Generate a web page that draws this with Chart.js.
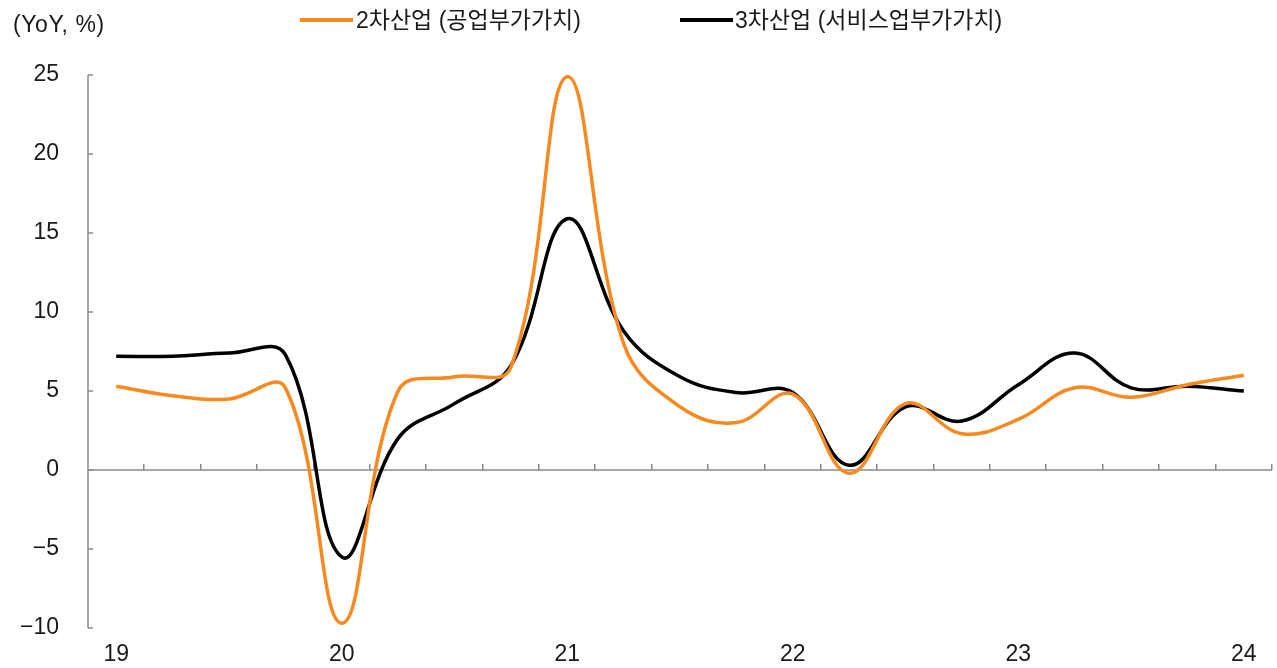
<!DOCTYPE html>
<html lang="ko">
<head>
<meta charset="utf-8">
<script src="https://cdn.jsdelivr.net/npm/chart.js@4.4.1/dist/chart.umd.min.js"></script>
<style>
  html, body { margin: 0; padding: 0; background: #fff; }
  #wrap { position: relative; width: 1277px; height: 668px; }
  canvas { position: absolute; left: 0; top: 0; }
  .txt { position: absolute; font-family: "Liberation Sans", "Noto Sans CJK KR", sans-serif; font-size: 23px; color: #1a1a1a; white-space: nowrap; line-height: 1; }
  .swatch { position: absolute; height: 4px; }
</style>
</head>
<body>
<div id="wrap">
  <canvas id="c" width="1277" height="668"></canvas>
  <div class="txt" style="left:13px; top:13px; letter-spacing:0.6px;">(YoY, %)</div>
  <div class="swatch" style="left:300px; top:18px; width:53px; background:#F7891F;"></div>
  <div class="txt" style="left:356px; top:9px;">2차산업 (공업부가가치)</div>
  <div class="swatch" style="left:680px; top:18px; width:53px; background:#000;"></div>
  <div class="txt" style="left:735px; top:9px;">3차산업 (서비스업부가가치)</div>
</div>
<script>
// Quarterly categories, 2019 Q1 through 2024 Q1
const quarters = [
  '19Q1','19Q2','19Q3','19Q4',
  '20Q1','20Q2','20Q3','20Q4',
  '21Q1','21Q2','21Q3','21Q4',
  '22Q1','22Q2','22Q3','22Q4',
  '23Q1','23Q2','23Q3','23Q4',
  '24Q1'
];
// Year label shown under each first quarter
const yearLabels = ['19','','','','20','','','','21','','','','22','','','','23','','','','24'];

// Secondary industry value added, YoY %
const secondary = [5.3, 4.7, 4.5, 5.2, -9.7, 5.0, 5.9, 6.5, 24.9, 8.0, 4.0, 3.0, 4.8, -0.2, 4.2, 2.3, 3.2, 5.2, 4.6, 5.4, 6.0];
// Tertiary industry value added, YoY %
const tertiary  = [7.2, 7.2, 7.4, 7.3, -5.5, 2.0, 4.2, 6.6, 15.9, 8.8, 5.9, 4.9, 4.9, 0.3, 4.0, 3.1, 5.4, 7.4, 5.2, 5.3, 5.0];

const yTicks = [25, 20, 15, 10, 5, 0, -5, -10];

const AXIS = '#8a8a8a';
const TEXT = '#1a1a1a';
const FONT = '"Liberation Sans", Arial, sans-serif';

// Axis lines and inward tick marks, drawn under the series
const axisPlugin = {
  id: 'axisPlugin',
  beforeDatasetsDraw(chart) {
    const { ctx, chartArea: a, scales: { x, y } } = chart;
    ctx.save();
    ctx.strokeStyle = AXIS;
    ctx.lineWidth = 1.5;
    // vertical axis
    ctx.beginPath();
    ctx.moveTo(a.left, y.getPixelForValue(25));
    ctx.lineTo(a.left, y.getPixelForValue(-10));
    ctx.stroke();
    // y tick marks
    yTicks.forEach(v => {
      const py = y.getPixelForValue(v);
      ctx.beginPath();
      ctx.moveTo(a.left, py);
      ctx.lineTo(a.left + 5, py);
      ctx.stroke();
    });
    // zero line
    const y0 = y.getPixelForValue(0);
    ctx.beginPath();
    ctx.moveTo(a.left, y0);
    ctx.lineTo(a.right, y0);
    ctx.stroke();
    // category boundary ticks
    const w = (a.right - a.left) / quarters.length;
    for (let k = 1; k <= quarters.length; k++) {
      const px = Math.round(a.left + k * w) - 0.25;
      ctx.beginPath();
      ctx.moveTo(px, y0);
      ctx.lineTo(px, y0 - 6);
      ctx.stroke();
    }
    ctx.restore();
  }
};

new Chart(document.getElementById('c'), {
  type: 'line',
  data: {
    labels: quarters,
    datasets: [
      { label: '2차산업 (공업부가가치)', data: secondary, borderColor: '#F7891F', backgroundColor: '#F7891F' },
      { label: '3차산업 (서비스업부가가치)', data: tertiary, borderColor: '#000000', backgroundColor: '#000000' }
    ]
  },
  options: {
    responsive: false,
    animation: false,
    devicePixelRatio: 1,
    layout: { padding: { top: 75, right: 5, bottom: 0, left: 0 } },
    elements: {
      line: { borderWidth: 3.5, tension: 0.4, capBezierPoints: true },
      point: { radius: 0, hoverRadius: 0 }
    },
    plugins: { legend: { display: false }, tooltip: { enabled: false } },
    scales: {
      x: {
        type: 'category',
        offset: true,
        grid: { display: false, drawTicks: false },
        border: { display: false },
        afterFit(s) { s.height = 40; },
        ticks: {
          autoSkip: false, maxRotation: 0, padding: 13,
          color: TEXT, font: { family: FONT, size: 23 },
          callback: (v, i) => yearLabels[i]
        }
      },
      y: {
        min: -10, max: 25,
        afterFit(s) { s.width = 88; s.paddingTop = 0; s.paddingBottom = 0; },
        grid: { display: false, drawTicks: false },
        border: { display: false },
        afterBuildTicks(s) { s.ticks = yTicks.map(v => ({ value: v })); },
        ticks: {
          padding: 29, color: TEXT, font: { family: FONT, size: 23 },
          callback: v => (v < 0 ? '\u2212' + Math.abs(v) : String(v))
        }
      }
    }
  },
  plugins: [axisPlugin]
});
</script>
</body>
</html>
